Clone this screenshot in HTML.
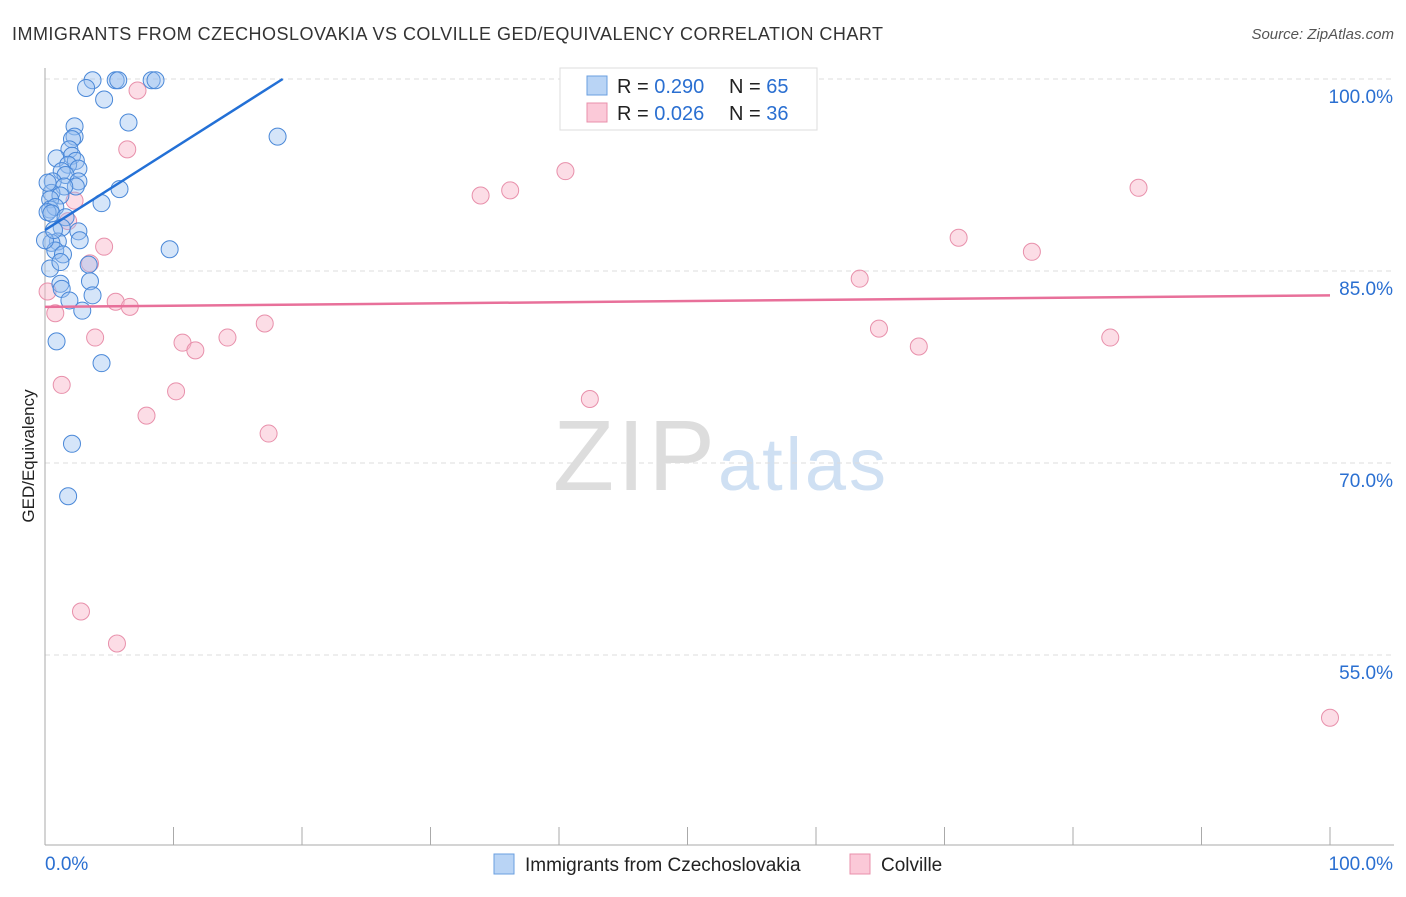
<!DOCTYPE html>
<html><head><meta charset="utf-8"><style>
body{margin:0;background:#fff;font-family:"Liberation Sans",sans-serif;}
svg text{font-family:"Liberation Sans",sans-serif;}
</style></head><body>
<svg id="c" width="1406" height="892" xmlns="http://www.w3.org/2000/svg">
<text x="12" y="40" font-size="18" fill="#333" textLength="871">IMMIGRANTS FROM CZECHOSLOVAKIA VS COLVILLE GED/EQUIVALENCY CORRELATION CHART</text>
<text x="1394" y="39" font-size="15" fill="#555" font-style="italic" text-anchor="end">Source: ZipAtlas.com</text>
<text x="34" y="456" font-size="17" fill="#222" text-anchor="middle" transform="rotate(-90 34 456)">GED/Equivalency</text>
<text x="553" y="490" font-size="100" fill="#ddd" font-family="Liberation Serif" textLength="162">ZIP</text>
<text x="718" y="490" font-size="74" fill="#cfe0f3" textLength="168">atlas</text>
<g id="grid"></g><g id="pts"></g><g id="lines"></g>
<g>
<rect x="560" y="68" width="257" height="62" fill="#fff" stroke="#ddd"/>
<rect x="587" y="76" width="20" height="19" fill="#b9d4f5" stroke="#6a9fe0"/>
<rect x="587" y="103" width="20" height="19" fill="#fbc9d8" stroke="#e890ab"/>
<text x="617" y="93" font-size="20" fill="#222">R = <tspan fill="#2a6fd1">0.290</tspan></text>
<text x="729" y="93" font-size="20" fill="#222">N = <tspan fill="#2a6fd1">65</tspan></text>
<text x="617" y="120" font-size="20" fill="#222">R = <tspan fill="#2a6fd1">0.026</tspan></text>
<text x="729" y="120" font-size="20" fill="#222">N = <tspan fill="#2a6fd1">36</tspan></text>
</g>
<g>
<rect x="494" y="854" width="20" height="20" fill="#b9d4f5" stroke="#6a9fe0"/>
<text x="525" y="871" font-size="19" fill="#222">Immigrants from Czechoslovakia</text>
<rect x="850" y="854" width="20" height="20" fill="#fbc9d8" stroke="#e890ab"/>
<text x="881" y="871" font-size="19" fill="#222">Colville</text>
</g>
</svg>
<script>
const yTicks=[100,85,70,55];
const yTickLabels=["100.0%","85.0%","70.0%","55.0%"];
const xTickLabels=["0.0%","100.0%"];
const blueX=[3.7,5.5,5.7,8.3,8.6,3.2,4.6,6.5,18.1,2.3,2.3,2.1,1.9,0.9,2.1,2.4,1.8,2.6,1.3,1.6,2.6,0.6,2.4,1.5,0.5,1.2,0.4,5.8,4.4,0.4,0.8,0.2,0.5,1.6,1.3,2.6,2.7,1.0,0.5,0.8,1.4,9.7,3.4,3.5,1.2,1.3,3.7,1.9,2.9,0.9,4.4,2.1,1.8,0.4,0.0,0.2,0.7,1.2];
const blueY=[99.9,99.9,99.9,99.9,99.9,99.3,98.4,96.6,95.5,96.3,95.5,95.3,94.5,93.8,94.0,93.6,93.3,93.0,92.8,92.5,92.0,92.0,91.6,91.6,91.1,90.9,90.6,91.4,90.3,89.8,90.0,89.6,89.5,89.2,88.4,88.1,87.4,87.3,87.2,86.6,86.3,86.7,85.5,84.2,84.0,83.6,83.1,82.7,81.9,79.5,77.8,71.5,67.4,85.2,87.4,91.9,88.2,85.7];
const pinkX=[53.5,7.2,6.4,40.5,36.2,33.9,85.1,2.3,1.8,4.6,71.1,76.8,3.5,63.4,5.5,6.6,0.8,0.2,17.1,64.9,14.2,3.9,82.9,10.7,11.7,68.0,10.2,1.3,7.9,42.4,17.4,2.8,5.6,100];
const pinkY=[99.9,99.1,94.5,92.8,91.3,90.9,91.5,90.5,88.9,86.9,87.6,86.5,85.6,84.4,82.6,82.2,81.7,83.4,80.9,80.5,79.8,79.8,79.8,79.4,78.8,79.1,75.6,76.1,73.7,75.0,72.3,58.4,55.9,50.1];
const blueLine=[0,88.2,18.5,100];
const pinkLine=[0,82.2,100,83.1];
const X=v=>45+v*12.85, Y=v=>79+(100-v)*12.8;
const ns="http://www.w3.org/2000/svg";
function mk(t,a,p){const e=document.createElementNS(ns,t);for(const k in a)e.setAttribute(k,a[k]);p.appendChild(e);return e;}
const g=document.getElementById('grid');
yTicks.forEach((t,i)=>{
 const l=mk('line',{x1:45,x2:1394,y1:Y(t),y2:Y(t),stroke:'#ddd','stroke-dasharray':'5,4'},g);
 
 
 const tx=mk('text',{x:1393,y:Y(t)+24,'font-size':19,fill:'#2a6fd1','text-anchor':'end'},g);tx.textContent=yTickLabels[i];
 
 
});
const ax=mk('line',{x1:45,x2:45,y1:68,y2:845,stroke:'#aaa'},g);


const bx=mk('line',{x1:45,x2:1394,y1:845,y2:845,stroke:'#aaa'},g);


for(let i=1;i<=10;i++){const t=mk('line',{x1:X(i*10),x2:X(i*10),y1:827,y2:845,stroke:'#aaa'},g);
 
 }
xTickLabels.forEach((s,i)=>{const t=mk('text',{x:i?1393:45,y:870,'font-size':19,fill:'#2a6fd1','text-anchor':i?'end':'start'},g);t.textContent=s;
 
 });
const p=document.getElementById('pts');
pinkX.forEach((x,i)=>{const c=mk('circle',{cx:X(x),cy:Y(pinkY[i]),r:8.5,fill:'rgba(248,180,200,0.45)',stroke:'#e890ab','stroke-width':1},p);
 
 });
blueX.forEach((x,i)=>{const c=mk('circle',{cx:X(x),cy:Y(blueY[i]),r:8.5,fill:'rgba(150,190,240,0.4)',stroke:'#4a88d8','stroke-width':1},p);
 
 });
const L=document.getElementById('lines');
const bl=mk('line',{x1:X(blueLine[0]),y1:Y(blueLine[1]),x2:X(blueLine[2]),y2:Y(blueLine[3]),stroke:'#2370d6','stroke-width':2.5},L);


const pl=mk('line',{x1:X(pinkLine[0]),y1:Y(pinkLine[1]),x2:X(pinkLine[2]),y2:Y(pinkLine[3]),stroke:'#e8709a','stroke-width':2.5},L);


</script>
</body></html>
